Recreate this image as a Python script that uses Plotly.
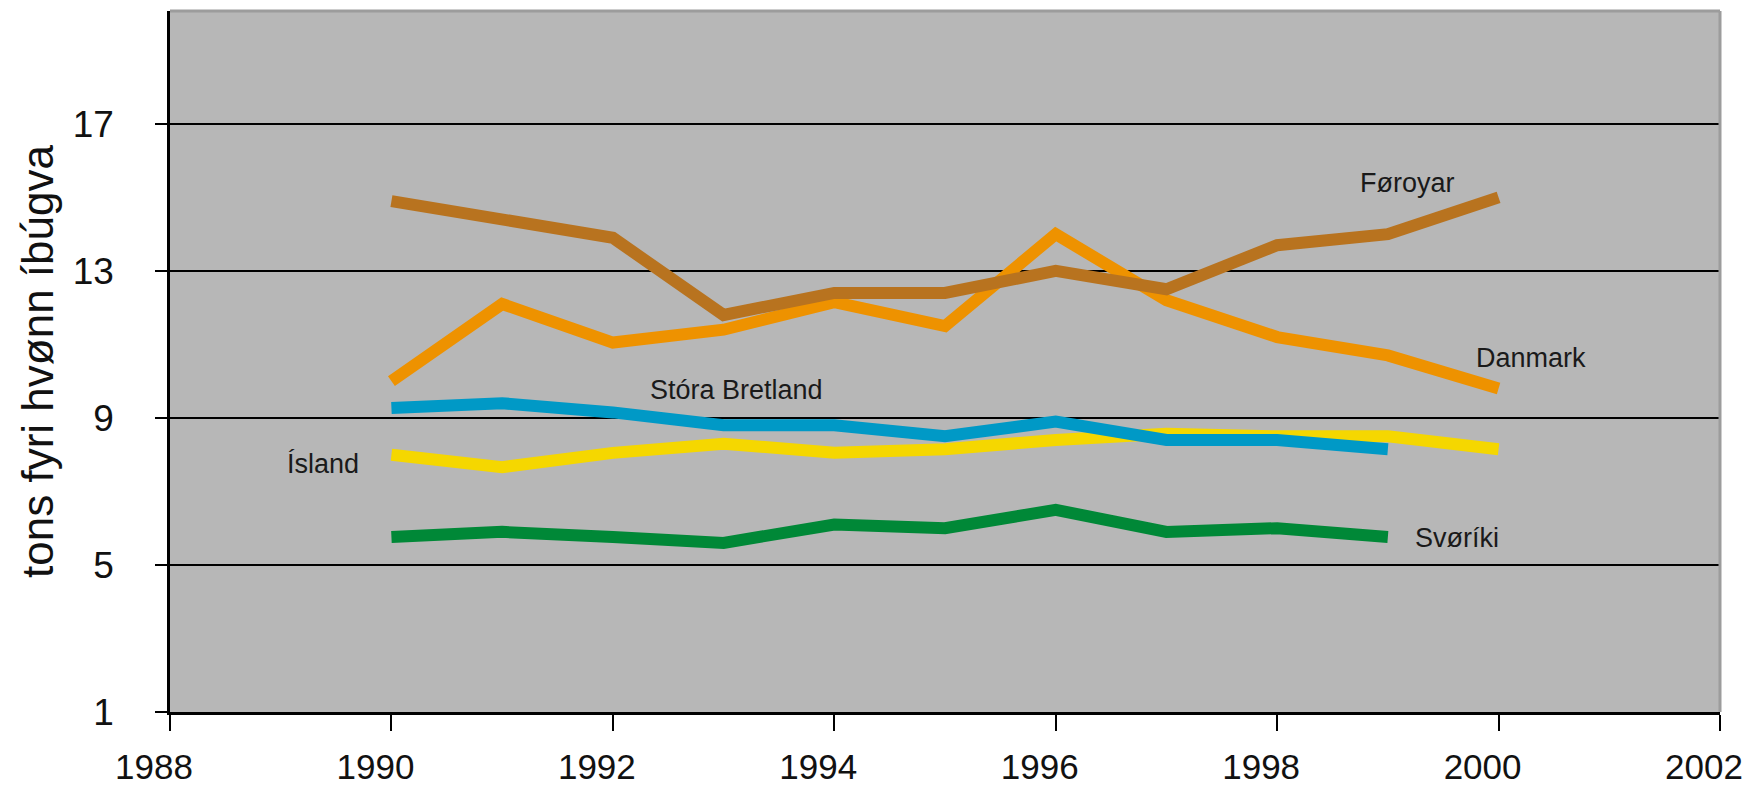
import plotly.graph_objects as go

years_long = [1990, 1991, 1992, 1993, 1994, 1995, 1996, 1997, 1998, 1999, 2000]
years_short = [1990, 1991, 1992, 1993, 1994, 1995, 1996, 1997, 1998, 1999]

foroyar = [14.9, 14.4, 13.9, 11.8, 12.4, 12.4, 13.0, 12.5, 13.7, 14.0, 15.0]
danmark = [10.0, 12.1, 11.05, 11.4, 12.15, 11.5, 14.0, 12.2, 11.2, 10.7, 9.8]
island = [8.0, 7.66, 8.05, 8.3, 8.05, 8.15, 8.4, 8.57, 8.5, 8.5, 8.15]
bretland = [9.27, 9.4, 9.15, 8.8, 8.8, 8.5, 8.9, 8.4, 8.4, 8.15]
sveriki = [5.76, 5.9, 5.76, 5.6, 6.1, 6.0, 6.5, 5.9, 6.0, 5.76]

series = [
    ("Ísland", years_long, island, "#F5D700"),
    ("Stóra Bretland", years_short, bretland, "#0099C6"),
    ("Svøríki", years_short, sveriki, "#008837"),
    ("Danmark", years_long, danmark, "#EE9200"),
    ("Føroyar", years_long, foroyar, "#B8731F"),
]

labels = [
    ("Føroyar", 1999.18, 15.39),
    ("Danmark", 2000.29, 10.63),
    ("Stóra Bretland", 1993.12, 9.76),
    ("Ísland", 1989.38, 7.75),
    ("Svøríki", 1999.62, 5.73),
]

x_ticks = [1988, 1990, 1992, 1994, 1996, 1998, 2000, 2002]
y_ticks = [1, 5, 9, 13, 17]

fig = go.Figure()
for name, xs, ys, col in series:
    fig.add_trace(go.Scatter(x=xs, y=ys, mode="lines", name=name,
                             line=dict(color=col, width=12),
                             showlegend=False, hoverinfo="skip"))

for text, lx, ly in labels:
    fig.add_annotation(x=lx, y=ly, text=text, showarrow=False,
                       font=dict(size=27, color="#1a1a1a",
                                 family="Liberation Sans, Arial, sans-serif"),
                       xanchor="center", yanchor="middle")

fig.add_shape(type="line", xref="paper", yref="paper", x0=0, x1=1, y0=1, y1=1,
              line=dict(color="#9C9C9C", width=3))
fig.add_shape(type="line", xref="paper", yref="paper", x0=1, x1=1, y0=0, y1=1,
              line=dict(color="#9C9C9C", width=3))

fig.update_layout(
    width=1755, height=787,
    margin=dict(l=170, r=35, t=11, b=75),
    paper_bgcolor="white",
    plot_bgcolor="#B7B7B7",
    font=dict(family="Liberation Sans, Arial, sans-serif", color="#111111"),
    xaxis=dict(range=[1988, 2002], tickvals=x_ticks,
               ticktext=[str(v) for v in x_ticks],
               showgrid=False, zeroline=False, showline=True, linecolor="black",
               linewidth=3, ticks="outside", ticklen=16, tickwidth=1.5,
               tickcolor="black", tickfont=dict(size=35), ticklabelstandoff=6,
               ticklabelshift=-16,
               ticklabeloverflow="allow", automargin=False),
    yaxis=dict(range=[1, 20.07], tickvals=y_ticks, ticktext=[str(v) for v in y_ticks],
               showgrid=True, gridcolor="black", gridwidth=1.5, zeroline=False,
               showline=True, linecolor="black", linewidth=2.5, ticks="outside",
               ticklen=12, tickwidth=1.5, tickcolor="black",
               tickfont=dict(size=37), ticklabelstandoff=34, automargin=False,
               title=dict(text="tons fyri hvønn íbúgva", font=dict(size=44), standoff=6)),
)

fig.write_html("out.html", config={"displayModeBar": False},
               post_script="document.body.style.margin='0';document.body.style.overflow='hidden';")
